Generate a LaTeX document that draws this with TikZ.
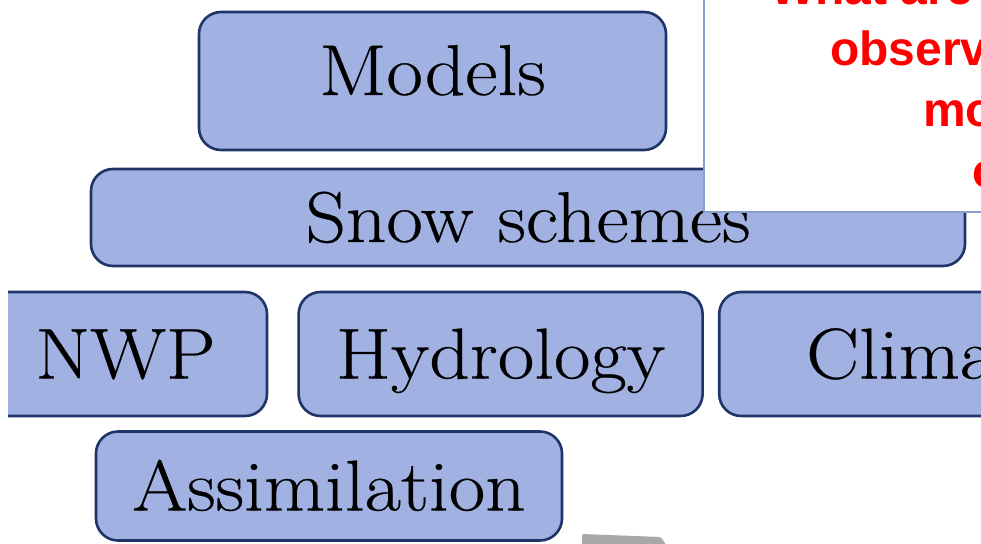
\documentclass[tikz,border=0pt]{standalone}
\usepackage{fontspec}
\newfontfamily\askfont{Liberation Sans}
\newfontfamily\tilefont[FakeStretch=1.1,FakeBold=0.4]{Latin Modern Roman}
\usepackage{tikz}
\usetikzlibrary{positioning}
\definecolor{SnowFill}{HTML}{A1B2E2}
\definecolor{SnowEdge}{HTML}{1F3468}
\definecolor{CalloutEdge}{HTML}{8C9CCB}
\definecolor{CalloutRed}{HTML}{FF0000}
\definecolor{ArrowGrey}{HTML}{A8A8A8}

\begin{document}
\begin{tikzpicture}[x=1pt,y=-1pt,
  tile/.style={draw=SnowEdge,fill=SnowFill,line width=2.6pt,rounded corners=22pt,inner sep=0pt,text height=49pt,text depth=0pt,font=\tilefont\fontsize{72}{80}\selectfont},
  callout/.style={draw=CalloutEdge,fill=white,line width=1.5pt},
  asktext/.style={anchor=base west,inner sep=0pt,text=CalloutRed,font=\askfont\bfseries\fontsize{48}{58}\selectfont}
]
\fill[white] (0,0) rectangle (981,543);
\useasboundingbox (0,0) rectangle (981,543);
\begin{scope}
\clip (8,0) rectangle (981,543);
% stacked blocks
\node[tile,minimum width=467pt,minimum height=138pt,text depth=21pt] (models) at (432.5,81) {Models};
\node[tile,minimum width=874pt,minimum height=97pt] (snow) at (528,217.5) {Snow schemes};
\node[tile,minimum width=283pt,minimum height=124pt] (nwp) at (125.5,354) {NWP};
\node[tile,minimum width=404pt,minimum height=124pt,right=29pt of nwp] (hydro) {Hydrology};
\node[tile,text width=426pt,align=left,minimum height=124pt,right=14pt of hydro] (clima) {\hspace*{87pt}Clima};
\node[tile,minimum width=466pt,minimum height=109pt] (assim) at (329,486) {Assimilation};
% grey shape at the bottom
\fill[ArrowGrey,rounded corners=2pt] (582,534) -- (661,537) -- (668,548) -- (582,548) -- cycle;
% question box
\draw[callout] (704,-10) rectangle (1000,212);
\foreach \txt/\x/\y [count=\i] in {What are/770/5, observ/830/65, mo/923/126, c/972/187}
  \node[asktext] (ask\i) at (\x,\y) {\txt};
\end{scope}
\end{tikzpicture}
\end{document}
